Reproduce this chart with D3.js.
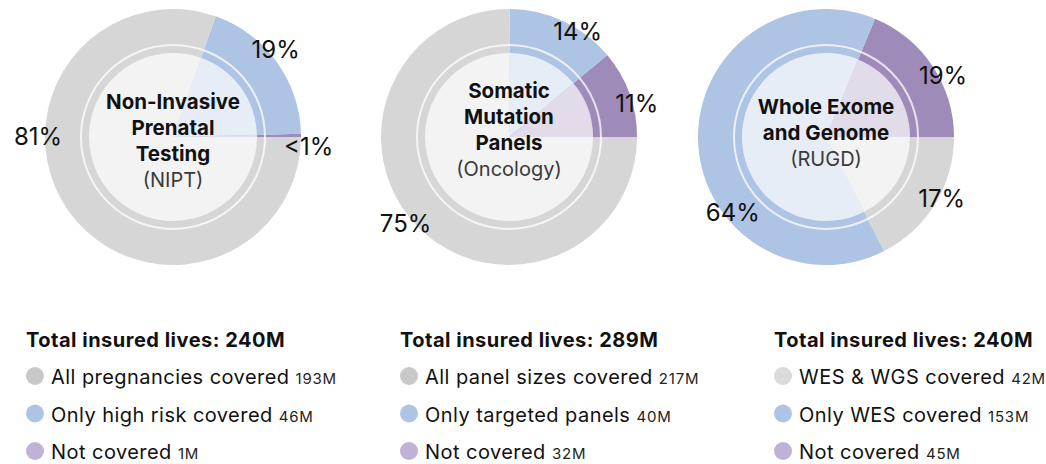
<!DOCTYPE html>
<html>
<head>
<meta charset="utf-8">
<script src="https://cdn.jsdelivr.net/npm/d3@7"></script>
<style>
	body { margin: 0; background: #fff; }
	svg { display: block; font-family: Inter, 'Noto Sans', sans-serif; }
</style>
</head>
<body>
<div id="chart"></div>
<script>
// data, one entry per donut (order: full coverage, partial, not covered)
var titles = [['Non-Invasive', 'Prenatal', 'Testing'], ['Somatic', 'Mutation', 'Panels'], ['Whole Exome', 'and Genome']];
var subtitles = ['(NIPT)', '(Oncology)', '(RUGD)'];
var totals = ['240M', '289M', '240M'];
var categories = [
	['All pregnancies covered', 'Only high risk covered', 'Not covered'],
	['All panel sizes covered', 'Only targeted panels', 'Not covered'],
	['WES & WGS covered', 'Only WES covered', 'Not covered']
];
var values = [[193, 46, 1], [217, 40, 32], [42, 153, 45]];
var valueLabels = [['193M', '46M', '1M'], ['217M', '40M', '32M'], ['42M', '153M', '45M']];
var pctLabels = [['81%', '19%', '<1%'], ['75%', '14%', '11%'], ['17%', '64%', '19%']];

// layout
var width = 1046,
	height = 464;
var centersX = [173, 509, 826],
	centerY = 137,
	outerR = 128,
	ringR = 92,
	innerR = 84,
	lineH = 25.7,
	titleShift = [11, 0, 3];
var legendX = [26, 400, 774];
// percent label placement (degrees ccw from 3 o'clock, radius)
var labelAngles = [[180, 40.5, -4], [220, 57, 14.5], [-28, 219, 27.5]];
var labelRadii = [[135, 135, 136], [135, 126, 132], [131, 120, 132]];

var arcColors = ['#d6d6d6', '#aec4e4', '#9e8bba'];
var dotColors = [
	['#c8c8c8', '#aec4e4', '#bfb2d6'],
	['#c8c8c8', '#aec4e4', '#bfb2d6'],
	['#dadada', '#aec4e4', '#bfb2d6']
];

var svg = d3.select('#chart').append('svg')
	.attr('width', width)
	.attr('height', height);

// slices start at 3 o'clock and run counter-clockwise: not covered, partial, full
var pie = d3.pie()
	.sort(null)
	.startAngle(Math.PI / 2)
	.endAngle(Math.PI / 2 - 2 * Math.PI);

var outerArc = d3.arc().innerRadius(0).outerRadius(outerR);
var innerArc = d3.arc().innerRadius(0).outerRadius(innerR);

values.forEach(function(vals, c){
	var order = [2, 1, 0];
	var slices = pie(order.map(function(i){ return vals[i]; }));
	var g = svg.append('g')
		.attr('transform', 'translate(' + centersX[c] + ',' + centerY + ')');

	g.selectAll('path.outer')
		.data(slices)
		.enter().append('path')
			.attr('class', 'outer')
			.attr('d', outerArc)
			.attr('fill', function(d, i){ return arcColors[order[i]]; });

	// lighter inner pie
	g.selectAll('path.inner')
		.data(slices)
		.enter().append('path')
			.attr('class', 'inner')
			.attr('d', innerArc)
			.attr('fill', function(d, i){
				return d3.interpolateRgb(arcColors[order[i]], '#fff')(0.7);
			});

	g.append('circle')
		.attr('r', ringR)
		.attr('fill', 'none')
		.attr('stroke', '#fff')
		.attr('stroke-opacity', 0.75)
		.attr('stroke-width', 2);

	// center title
	var lines = titles[c];
	var n = lines.length + 1;
	var y0 = -(n - 1) / 2 * lineH + titleShift[c];
	lines.forEach(function(t, i){
		g.append('text')
			.attr('text-anchor', 'middle')
			.attr('y', y0 + i * lineH)
			.attr('font-size', 20.5)
			.attr('font-weight', 700)
			.attr('fill', '#111')
			.text(t);
	});
	g.append('text')
		.attr('text-anchor', 'middle')
		.attr('y', y0 + lines.length * lineH)
		.attr('font-size', 20)
		.attr('fill', '#3a3a3a')
		.text(subtitles[c]);

	// percent labels
	pctLabels[c].forEach(function(t, i){
		var a = labelAngles[c][i] * Math.PI / 180,
			r = labelRadii[c][i];
		g.append('text')
			.attr('text-anchor', 'middle')
			.attr('x', r * Math.cos(a))
			.attr('y', -r * Math.sin(a))
			.attr('dy', '0.35em')
			.attr('font-size', 24)
			.attr('fill', '#111')
			.text(t);
	});

	// legend
	var lg = svg.append('g')
		.attr('transform', 'translate(' + legendX[c] + ',0)');
	lg.append('text')
		.attr('y', 347)
		.attr('font-size', 20)
		.attr('font-weight', 700)
		.attr('letter-spacing', 0.5)
		.attr('fill', '#111')
		.text('Total insured lives: ' + totals[c]);

	categories[c].forEach(function(name, i){
		var cy = 376 + i * 37.5;
		lg.append('circle')
			.attr('cx', 9)
			.attr('cy', cy)
			.attr('r', 9)
			.attr('fill', dotColors[c][i]);
		var t = lg.append('text')
			.attr('x', 25)
			.attr('y', cy + 8)
			.attr('font-size', 20)
			.attr('letter-spacing', 0.45)
			.attr('fill', '#111')
			.text(name + ' ');
		t.append('tspan')
			.attr('font-size', 15)
			.attr('letter-spacing', 0.8)
			.attr('fill', '#222')
			.text(valueLabels[c][i]);
	});
});
</script>
</body>
</html>
